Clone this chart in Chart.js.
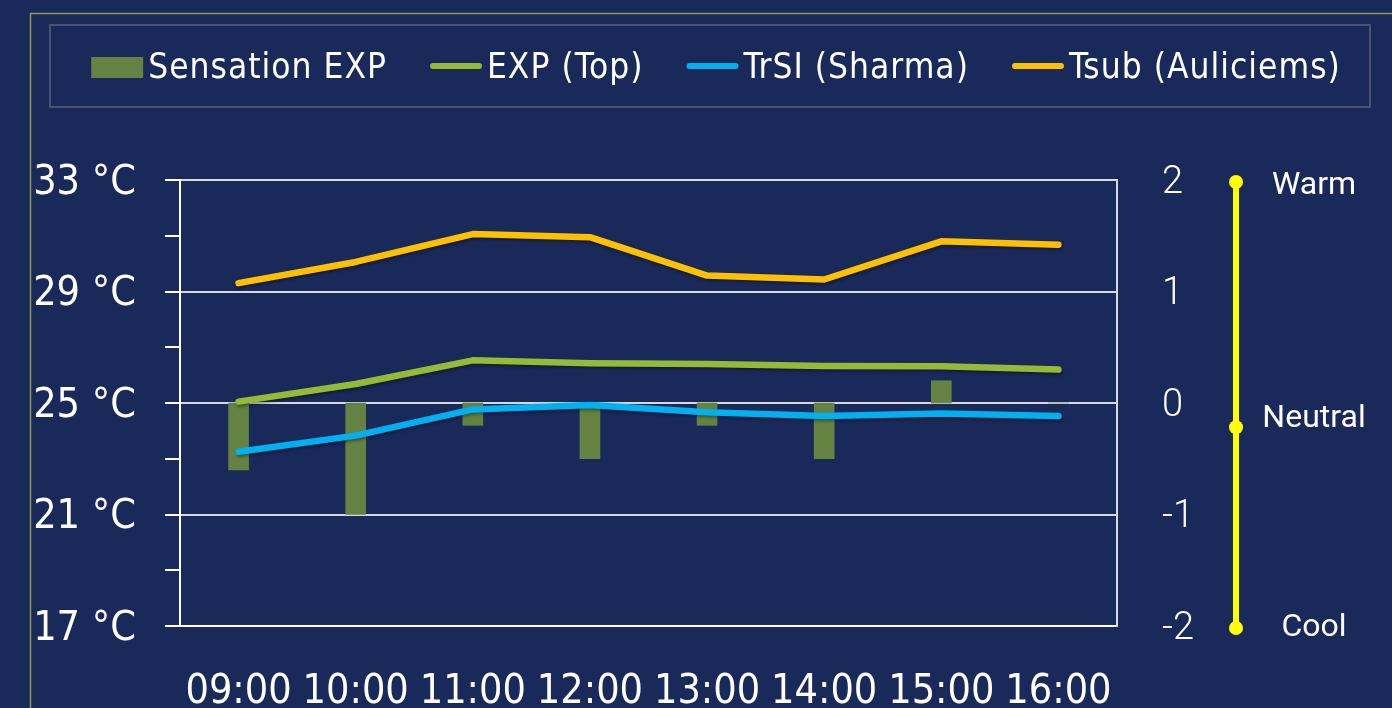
<!DOCTYPE html>
<html>
<head>
<meta charset="utf-8">
<script src="https://cdn.jsdelivr.net/npm/chart.js@4.4.1/dist/chart.umd.min.js"></script>
<style>
  html, body { margin: 0; padding: 0; background: #192959; }
  #wrap { width: 1392px; height: 708px; }
</style>
</head>
<body>
<div id="wrap"><canvas id="chart"></canvas></div>
<script>
const hours = ['09:00', '10:00', '11:00', '12:00', '13:00', '14:00', '15:00', '16:00'];
const sensationExp = [-0.6, -1.0, -0.2, -0.5, -0.2, -0.5, 0.2, 0];
const expTop = [25.05, 25.68, 26.53, 26.43, 26.4, 26.33, 26.32, 26.2];
const trsiSharma = [23.25, 23.83, 24.77, 24.93, 24.67, 24.53, 24.62, 24.53];
const tsubAuliciems = [29.3, 30.06, 31.06, 30.95, 29.57, 29.43, 30.8, 30.68];
const scaleLabels = ['Warm', 'Neutral', 'Cool'];
const scaleValues = [2, -0.2, -2];

const condensed = "'DejaVu Sans Condensed', 'Liberation Sans Narrow', 'Roboto', sans-serif";
const white = '#ffffff';
const gridGray = '#d9d9d9';

// soft shadow under the lines, like the office chart
const seriesShadow = {
    id: 'seriesShadow',
    beforeDatasetDraw (chart, args) {
        const ctx = chart.ctx;
        ctx.save();
        if (args.meta.type === 'line') {
            ctx.shadowColor = 'rgba(0, 0, 0, 0.35)';
            ctx.shadowBlur = 3;
            ctx.shadowOffsetX = 1;
            ctx.shadowOffsetY = 2;
        }
    },
    afterDatasetDraw (chart) {
        chart.ctx.restore();
    }
};

// legend row inside a box, outer frame and the warm/cool scale
const decorations = {
    id: 'decorations',
    afterDraw (chart) {
        const ctx = chart.ctx;
        ctx.save();

        ctx.strokeStyle = '#8d9c4c';
        ctx.lineWidth = 1.5;
        ctx.beginPath();
        ctx.moveTo(30.5, 708);
        ctx.lineTo(30.5, 13.5);
        ctx.lineTo(1392, 13.5);
        ctx.stroke();

        ctx.strokeStyle = '#4a5270';
        ctx.lineWidth = 2;
        ctx.strokeRect(50, 25, 1320, 82);

        ctx.font = '35px ' + condensed;
        ctx.letterSpacing = '1px';
        const items = chart.data.datasets.map(ds => ({
            label: ds.label,
            bar: ds.type === 'bar',
            color: ds.type === 'bar' ? ds.backgroundColor : ds.borderColor,
            width: ctx.measureText(ds.label).width
        }));
        const swatch = 52, gap = 5, spacing = 43;
        const total = items.reduce((s, it) => s + swatch + gap + it.width, 0) + spacing * (items.length - 1);
        let x = 716 - total / 2;
        const cy = 67;
        items.forEach(it => {
            if (it.bar) {
                ctx.fillStyle = it.color;
                ctx.fillRect(x, cy - 10, swatch, 21);
            } else {
                ctx.strokeStyle = it.color;
                ctx.lineWidth = 6;
                ctx.lineCap = 'round';
                ctx.beginPath();
                ctx.moveTo(x + 3, cy - 1);
                ctx.lineTo(x + swatch - 3, cy - 1);
                ctx.stroke();
            }
            ctx.fillStyle = white;
            ctx.textBaseline = 'middle';
            ctx.textAlign = 'left';
            ctx.fillText(it.label, x + swatch + gap, cy + 2);
            x += swatch + gap + it.width + spacing;
        });
        ctx.letterSpacing = '0px';

        const y1 = chart.scales.y1;
        const sx = chart.chartArea.right + 119;
        const ys = scaleValues.map(v => y1.getPixelForValue(v) + 2);
        ctx.strokeStyle = '#ffff00';
        ctx.lineWidth = 6;
        ctx.lineCap = 'butt';
        ctx.beginPath();
        ctx.moveTo(sx, Math.min(...ys));
        ctx.lineTo(sx, Math.max(...ys));
        ctx.stroke();
        ctx.font = '32px Roboto';
        ctx.textAlign = 'center';
        ctx.textBaseline = 'middle';
        const labelShift = [4, -8, 0];
        ys.forEach((py, i) => {
            ctx.fillStyle = '#ffff00';
            ctx.beginPath();
            ctx.arc(sx, py, 7, 0, Math.PI * 2);
            ctx.fill();
            ctx.fillStyle = white;
            ctx.fillText(scaleLabels[i], sx + 78, py + labelShift[i]);
        });
        ctx.restore();
    }
};

new Chart(
    document.getElementById('chart'),
    {
        data: {
            labels: hours,
            datasets: [
                {
                    type: 'bar',
                    label: 'Sensation EXP',
                    data: sensationExp,
                    yAxisID: 'y1',
                    backgroundColor: '#648241',
                    barThickness: 20,
                    order: 10
                },
                {
                    type: 'line',
                    label: 'EXP (Top)',
                    data: expTop,
                    yAxisID: 'y',
                    borderColor: '#93bb35',
                    borderWidth: 6.5,
                    borderCapStyle: 'round',
                    borderJoinStyle: 'round',
                    pointRadius: 0,
                    order: 2
                },
                {
                    type: 'line',
                    label: 'TrSI (Sharma)',
                    data: trsiSharma,
                    yAxisID: 'y',
                    borderColor: '#00b0f0',
                    borderWidth: 6.5,
                    borderCapStyle: 'round',
                    borderJoinStyle: 'round',
                    pointRadius: 0,
                    order: 1
                },
                {
                    type: 'line',
                    label: 'Tsub (Auliciems)',
                    data: tsubAuliciems,
                    yAxisID: 'y',
                    borderColor: '#ffc000',
                    borderWidth: 6.5,
                    borderCapStyle: 'round',
                    borderJoinStyle: 'round',
                    pointRadius: 0,
                    order: 0
                }
            ]
        },
        options: {
            responsive: true,
            maintainAspectRatio: false,
            animation: false,
            devicePixelRatio: 1,
            layout: {
                padding: { top: 180, left: 0, right: 0, bottom: 0 }
            },
            plugins: {
                legend: { display: false },
                tooltip: { enabled: false }
            },
            scales: {
                x: {
                    offset: true,
                    grid: { display: false },
                    border: { display: true, color: white, width: 2 },
                    ticks: {
                        color: white,
                        padding: 34,
                        maxRotation: 0,
                        font: { family: condensed, size: 41 }
                    },
                    afterFit: (scale) => { scale.height = 82; }
                },
                y: {
                    position: 'left',
                    min: 17,
                    max: 33,
                    grid: {
                        color: (c) => ((c.tick.value - 17) % 4 === 0 ? gridGray : 'rgba(0,0,0,0)'),
                        tickColor: white,
                        lineWidth: 2,
                        tickWidth: 2,
                        tickLength: 15,
                        drawTicks: true
                    },
                    border: { display: true, color: white, width: 2 },
                    ticks: {
                        stepSize: 2,
                        color: white,
                        padding: 29,
                        labelOffset: 3,
                        font: { family: condensed, size: 41 },
                        callback: (v) => ((v - 17) % 4 === 0 ? v + ' °C' : '')
                    },
                    afterFit: (scale) => { scale.width = 180; }
                },
                y1: {
                    position: 'right',
                    min: -2,
                    max: 2,
                    grid: { display: false, drawTicks: false },
                    border: { display: true, color: gridGray, width: 2 },
                    ticks: {
                        stepSize: 1,
                        color: white,
                        padding: 45,
                        labelOffset: 3,
                        font: { family: 'Roboto', size: 38, weight: '300' }
                    },
                    afterFit: (scale) => { scale.width = 275; }
                }
            }
        },
        plugins: [seriesShadow, decorations]
    }
);
</script>
</body>
</html>
